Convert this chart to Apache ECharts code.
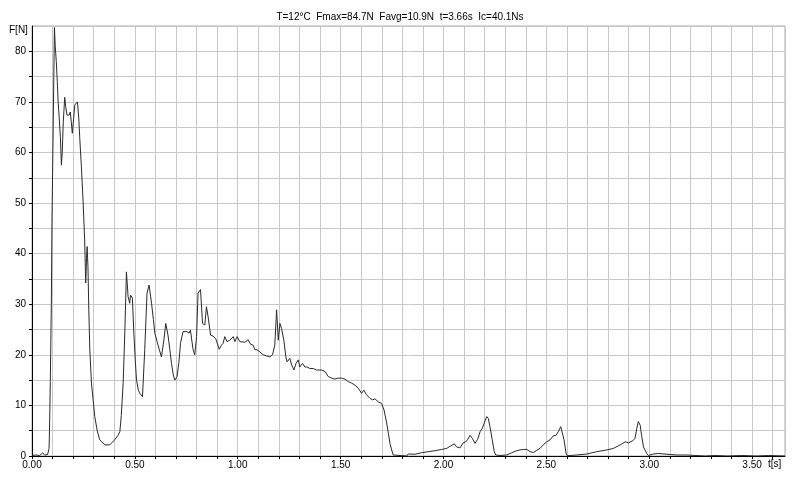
<!DOCTYPE html>
<html>
<head>
<meta charset="utf-8">
<script src="https://cdn.jsdelivr.net/npm/echarts@6/dist/echarts.min.js"></script>
<style>html,body{margin:0;padding:0;background:#fff}#c{width:800px;height:480px}</style>
</head>
<body>
<div id="c"></div>
<script>
const titleText = 'T=12°C  Fmax=84.7N  Favg=10.9N  t=3.66s  Ic=40.1Ns';
const yName = 'F[N]';
const xName = 't[s]';
const times = [
0.000,0.018,0.037,0.052,0.062,0.076,0.083,0.085,0.089,0.094,0.097,0.102,0.106,0.109,
0.113,0.118,0.123,0.127,0.132,0.138,0.143,0.147,0.152,0.159,0.164,0.170,0.180,0.186,
0.191,0.196,0.203,0.208,0.221,0.227,0.232,0.240,0.248,0.256,0.261,0.265,0.268,0.272,
0.276,0.281,0.289,0.305,0.317,0.329,0.354,0.378,0.402,0.417,0.427,0.434,0.443,0.451,
0.459,0.463,0.467,0.475,0.479,0.488,0.495,0.502,0.508,0.517,0.524,0.537,0.548,0.559,
0.569,0.581,0.590,0.597,0.608,0.619,0.629,0.641,0.650,0.661,0.670,0.678,0.687,0.694,
0.705,0.714,0.722,0.734,0.743,0.751,0.760,0.764,0.770,0.783,0.791,0.800,0.807,0.819,
0.829,0.840,0.848,0.856,0.868,0.880,0.893,0.910,0.921,0.929,0.937,0.948,0.962,0.978,
0.986,0.997,1.010,1.018,1.035,1.051,1.062,1.075,1.083,1.094,1.107,1.124,1.140,1.156,
1.169,1.180,1.189,1.197,1.205,1.213,1.224,1.234,1.240,1.253,1.262,1.273,1.283,1.294,
1.302,1.315,1.326,1.336,1.351,1.367,1.383,1.408,1.424,1.440,1.456,1.472,1.488,1.505,
1.521,1.537,1.554,1.570,1.586,1.602,1.613,1.626,1.643,1.656,1.667,1.683,1.699,1.711,
1.724,1.732,1.740,1.748,1.756,1.764,1.821,
1.829,1.837,1.861,1.894,1.926,1.959,1.991,2.016,2.027,2.036,
2.053,2.064,2.080,2.096,2.108,2.118,2.129,2.140,2.153,2.166,
2.178,2.189,2.198,2.210,2.218,2.226,2.237,2.247,2.254,2.275,
2.307,2.332,2.356,2.372,2.388,2.396,2.405,2.421,2.437,2.453,
2.469,2.485,2.502,2.518,2.534,2.547,2.558,2.570,2.578,2.586,
2.596,2.602,2.648,2.697,2.745,2.794,2.826,2.859,2.883,2.899,
2.920,2.931,2.940,2.947,2.956,2.964,2.972,2.988,2.996,3.004,
3.020,3.045,3.086,3.134,3.183,3.223,3.272,3.320,3.380,3.450,
3.520,3.580,3.660];
const forces = [
0.1,0.2,0.1,0.6,0.2,0.3,1.5,5,14.7,30,46,62,75,84.7,
81,78,74,70,67,63,57.5,60,66,70.9,69,67.4,67.4,68,
66,63.8,67,69.4,70,67,63,57.2,50.6,42.7,34.2,39,41.4,37.4,
29,21,14.4,7.8,5,3.2,2.2,2.2,3.2,4,4.8,8,14.4,24.3,
36.4,34,31.5,30.2,31.8,31.2,24.3,19,15,13,12.4,11.7,21,32.2,
33.8,30.2,27,24.3,22.6,21,19.6,22.9,26.2,23.9,21,18.3,16,15,
15.7,18.5,22.3,24.6,24.9,24.6,24.9,24.3,24.9,21,20,23.6,32.2,32.9,
26.2,25.9,29.5,27.5,23.9,23.7,23.2,21.1,21.9,22.3,23.6,22.6,22.9,23.6,
22.6,23.6,22.6,22.4,22.5,23,22.1,21.9,21,21,20.6,20,19.8,19.6,
20,21.9,28.9,22.9,26.2,25.2,22.9,19.6,18.6,19.3,18,17,18.3,19,
17.6,18.3,17.6,17.6,17.3,17.3,17,17,16.7,15.7,15.4,15.2,15.4,15.4,
15.2,14.7,14.4,14,13.4,12.4,13,12.1,11.4,11.1,11.3,10.7,10.4,9.1,
6.5,4.5,2.5,1.2,0.2,0,0,
0.4,0.5,0.35,0.65,0.85,1.05,1.3,1.5,1.8,1.5,
2.4,1.8,1.6,2.6,2.8,3.3,4.1,3.5,2.5,3.3,
4.8,5.5,6.5,7.8,7.4,5.8,3.2,0.85,0.2,0.1,
0.2,0.65,1.05,1.2,1.3,1.1,1.3,0.85,0.7,1.1,
1.5,2.2,2.8,3.2,4.0,4.1,4.8,5.8,5.6,3.2,
0.5,0.05,0.2,0.4,0.85,1.2,1.5,2.2,2.8,2.6,
3.0,3.5,5.5,6.8,6.1,3.8,1.8,0.5,0.1,0.35,
0.4,0.5,0.35,0.2,0.2,0.1,0,0.1,0,0.1,
0,0.1,0];

const fontFam = "'Liberation Sans Narrow','Arial Narrow','Liberation Sans',Arial,sans-serif";
const chart = echarts.init(document.getElementById('c'), null, {renderer:'canvas'});
const n = Math.min(times.length, forces.length);
const data = [];
for (let i = 0; i < n; i++) data.push([times[i], forces[i]]);
chart.setOption({
  animation:false,
  backgroundColor:'#fff',
  title:{text:titleText,left:'center',top:7,textStyle:{fontSize:10,fontWeight:'normal',color:'#000',fontFamily:fontFam}},
  grid:{left:32,right:15,top:26,bottom:24,show:true,borderColor:'#a8a8a8',borderWidth:1,backgroundColor:'#fff'},
  xAxis:{type:'value',min:0,max:3.66,interval:0.1,
    axisLine:{show:true,onZero:false,lineStyle:{color:'#000',width:1}},
    axisTick:{show:true,length:3,lineStyle:{color:'#000'}},
    splitLine:{show:true,lineStyle:{color:'#c8c8c8',width:1}},
    axisLabel:{showMaxLabel:false,margin:4,fontSize:10,color:'#000',fontFamily:fontFam,
      formatter:v=>{const r=Math.round(v*10);return r%5===0?(r/10).toFixed(2):'';}}
  },
  yAxis:{type:'value',min:0,max:85,interval:5,
    axisLine:{show:true,lineStyle:{color:'#000',width:1}},
    axisTick:{show:true,length:3,lineStyle:{color:'#000'}},
    splitLine:{show:true,lineStyle:{color:'#c8c8c8',width:1}},
    axisLabel:{showMaxLabel:false,margin:6,fontSize:10,color:'#000',fontFamily:fontFam,
      formatter:v=>{const r=Math.round(v);return r%10===0?String(r):'';}}
  },
  graphic:[
    {type:'text',left:9,top:25,style:{text:yName,fontSize:10,fill:'#000',fontFamily:fontFam}},
    {type:'text',left:768,top:459,style:{text:xName,fontSize:10,fill:'#000',fontFamily:fontFam}}
  ],
  series:[{type:'line',data:data,showSymbol:false,symbol:'none',clip:true,
    lineStyle:{color:'#2a2a2a',width:1}}]
});
</script>
</body>
</html>
